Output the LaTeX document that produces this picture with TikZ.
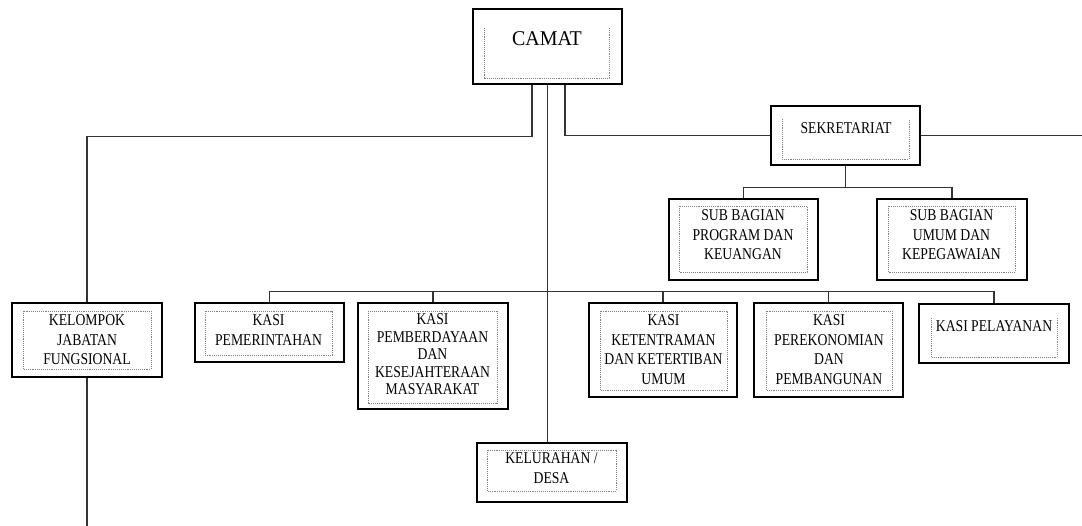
\documentclass[tikz,border=0pt]{standalone}
\usepackage{fontspec}
\setmainfont{Liberation Serif}[FakeStretch=0.83]
\newfontfamily\camatfont{Liberation Serif}[FakeStretch=0.95]
\tikzset{
  jabatan/.style={draw=black,line width=2.4pt,inner sep=0pt},
  dalam/.style={draw=gray,densely dotted,line width=0.9pt},
  link/.style={draw=black!80,line width=1.1pt},
  label/.style={anchor=north,inner sep=0pt,align=center,
    font=\fontsize{16.5}{19.5}\selectfont}
}
\begin{document}
\begin{tikzpicture}[x=1pt,y=-1pt]
  \useasboundingbox (0,0) rectangle (1082,526);
  % kotak jabatan
  \node[jabatan,minimum width=149pt,minimum height=75pt] (camat) at (547.5,46.5) {};
  \node[jabatan,minimum width=149pt,minimum height=59pt] (sekretariat) at (845.5,135.5) {};
  \node[jabatan,minimum width=149pt,minimum height=81pt] (subprog) at (743.5,239.5) {};
  \node[jabatan,minimum width=150pt,minimum height=81pt] (subumum) at (952,239.5) {};
  \node[jabatan,minimum width=150pt,minimum height=74pt] (kelompok) at (87,340) {};
  \node[jabatan,minimum width=149pt,minimum height=59pt] (pemerintahan) at (269.5,332.5) {};
  \node[jabatan,minimum width=150pt,minimum height=106pt] (pemberdayaan) at (433,356) {};
  \node[jabatan,minimum width=148pt,minimum height=94pt] (ketentraman) at (663,350) {};
  \node[jabatan,minimum width=149pt,minimum height=94pt] (perekonomian) at (828.5,350) {};
  \node[jabatan,minimum width=150pt,minimum height=59pt] (pelayanan) at (994,333.5) {};
  \node[jabatan,minimum width=150pt,minimum height=59pt] (kelurahan) at (552,472.5) {};
  % garis titik di dalam kotak
  \draw[dalam] (484,28) -- (484,78) -- (609,78) -- (609,28);
  \draw[dalam] (782,119) -- (782,159) -- (909,159) -- (909,119);
  \draw[dalam] (931,318) -- (931,357) -- (1057,357) -- (1057,318);
  \draw[dalam] (679,206) rectangle (807,272);
  \draw[dalam] (888,206) rectangle (1015,272);
  \draw[dalam] (23,311) rectangle (151,369);
  \draw[dalam] (205,311) rectangle (332,355);
  \draw[dalam] (368,311) rectangle (497,403);
  \draw[dalam] (600,311) rectangle (727,390);
  \draw[dalam] (766,311) rectangle (892,390);
  \draw[dalam] (487,450) rectangle (616,491);
  % teks
  \node[label,font=\camatfont\fontsize{21}{24}\selectfont] (tcamat) at (547,31.5) {CAMAT};
  \node[label] (tsekretariat) at (846,122.5) {SEKRETARIAT};
  \node[label] (tsubprog) at (743,209.5) {SUB BAGIAN\\PROGRAM DAN\\KEUANGAN};
  \node[label] (tsubumum) at (951.5,209.5) {SUB BAGIAN\\UMUM DAN\\KEPEGAWAIAN};
  \node[label] (tkelompok) at (87,314.5) {KELOMPOK\\JABATAN\\FUNGSIONAL};
  \node[label] (tpemerintahan) at (268.5,314.5) {KASI\\PEMERINTAHAN};
  \node[label,font=\fontsize{16.5}{17.5}\selectfont] (tpemberdayaan) at (432.5,313.5)
    {KASI\\PEMBERDAYAAN\\DAN\\KESEJAHTERAAN\\MASYARAKAT};
  \node[label] (tketentraman) at (663.5,314.5) {KASI\\KETENTRAMAN\\DAN KETERTIBAN\\UMUM};
  \node[label] (tperekonomian) at (829,314.5) {KASI\\PEREKONOMIAN\\DAN\\PEMBANGUNAN};
  \node[label] (tpelayanan) at (994,320.5) {KASI PELAYANAN};
  \node[label] (tkelurahan) at (551.5,452.5) {KELURAHAN /\\DESA};
  % garis penghubung
  \coordinate (tepi) at (1082,135.5);
  \coordinate (ujung) at (87,526);
  \draw[link] ([xshift=-15.5pt]camat.south) -- ++(0,51.5) -| (kelompok.north);
  \draw[link] ([xshift=17.5pt]camat.south) |- (sekretariat.west);
  \draw[link] (sekretariat.east) -- (tepi);
  \draw[link] (camat.south) -- (camat.south |- kelurahan.north);
  \draw[link] (sekretariat.south) -- ++(0,21) -| (subprog.north);
  \draw[link] (sekretariat.south) ++(0,21) -| (subumum.north);
  \draw[link] (pemerintahan.north) -- ++(0,-10) -| (pelayanan.north);
  \foreach \n in {pemberdayaan,ketentraman,perekonomian}
    \draw[link] (\n.north) -- ++(0,-10);
  \draw[link] (kelompok.south) -- (ujung);
\end{tikzpicture}
\end{document}
